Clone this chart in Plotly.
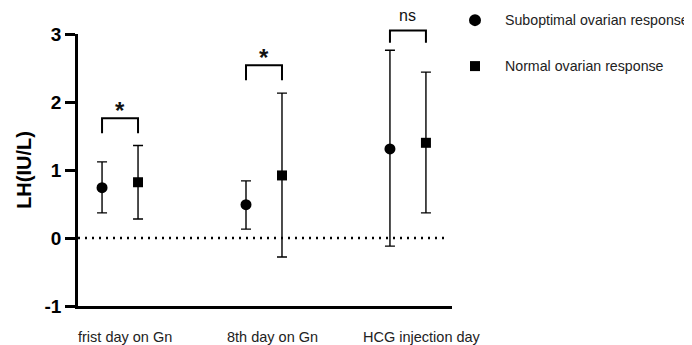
import plotly.graph_objects as go

categories = ["frist day on Gn", "8th day on Gn", "HCG injection day"]
series_names = ["Suboptimal ovarian response", "Normal ovarian response"]
sub_mean = [0.74, 0.49, 1.31]
sub_upper = [1.12, 0.84, 2.76]
sub_lower = [0.37, 0.13, -0.12]
norm_mean = [0.82, 0.92, 1.40]
norm_upper = [1.36, 2.13, 2.44]
norm_lower = [0.28, -0.28, 0.37]
sig_labels = ["*", "*", "ns"]
bracket_top = [1.76, 2.54, 3.05]
bracket_leg = [1.54, 2.32, 2.87]
label_y = [1.93, 2.71, 3.27]
y_ticks = [-1, 0, 1, 2, 3]
y_ticktext = ["-1", "0", "1", "2", "3"]
Y_RANGE = [-1, 3]

centers = [1, 2, 3]
off = 0.125
x_sub = [c - off for c in centers]
x_norm = [c + off for c in centers]


def ypaper(v):
    return (v - Y_RANGE[0]) / (Y_RANGE[1] - Y_RANGE[0])


FONT = "Liberation Sans, Arial, sans-serif"

fig = go.Figure()
fig.add_trace(go.Scatter(
    x=x_sub, y=sub_mean, mode="markers", name=series_names[0],
    marker=dict(symbol="circle", size=11, color="black"),
    error_y=dict(type="data", symmetric=False,
                 array=[u - m for u, m in zip(sub_upper, sub_mean)],
                 arrayminus=[m - l for m, l in zip(sub_mean, sub_lower)],
                 color="black", thickness=1.4, width=5),
    showlegend=False, cliponaxis=False))
fig.add_trace(go.Scatter(
    x=x_norm, y=norm_mean, mode="markers", name=series_names[1],
    marker=dict(symbol="square", size=10, color="black"),
    error_y=dict(type="data", symmetric=False,
                 array=[u - m for u, m in zip(norm_upper, norm_mean)],
                 arrayminus=[m - l for m, l in zip(norm_mean, norm_lower)],
                 color="black", thickness=1.4, width=5),
    showlegend=False, cliponaxis=False))

shapes = []
annotations = []
# dotted zero line
shapes.append(dict(type="line", xref="x", yref="y", x0=0.708, x1=3.265, y0=0, y1=0,
                   line=dict(color="black", width=2.5, dash="2px,5px"), layer="below"))
# significance brackets
for i in range(3):
    yt = ypaper(bracket_top[i])
    yl = ypaper(bracket_leg[i])
    shapes.append(dict(type="path", xref="x", yref="paper",
                       path=f"M {x_sub[i]},{yl} L {x_sub[i]},{yt} L {x_norm[i]},{yt} L {x_norm[i]},{yl}",
                       line=dict(color="black", width=2)))
    is_star = sig_labels[i] == "*"
    annotations.append(dict(x=centers[i], y=ypaper(label_y[i]), xref="x", yref="paper",
                            text="<b>*</b>" if is_star else sig_labels[i],
                            showarrow=False, yanchor="middle",
                            font=dict(family=FONT, size=24 if is_star else 16, color="#111"),
                            yshift=-4 if is_star else 0))
# category labels
label_shift = [5, 9, 14]
for i, c in enumerate(categories):
    annotations.append(dict(x=centers[i], y=0, xref="x", yref="paper", text=c, showarrow=False,
                            yanchor="top", yshift=-21, xshift=label_shift[i],
                            font=dict(family=FONT, size=14.5, color="#222")))
# legend (manual)
leg_y = [1.051, 0.882]
symbols = ["circle", "rect"]
for i, name in enumerate(series_names):
    if symbols[i] == "circle":
        shapes.append(dict(type="circle", xref="paper", yref="paper", xsizemode="pixel", ysizemode="pixel",
                           xanchor=1.0615, yanchor=leg_y[i], x0=-6, x1=6, y0=-6, y1=6,
                           fillcolor="black", line=dict(width=0)))
    else:
        shapes.append(dict(type="rect", xref="paper", yref="paper", xsizemode="pixel", ysizemode="pixel",
                           xanchor=1.0615, yanchor=leg_y[i], x0=-5, x1=5, y0=-5, y1=5,
                           fillcolor="black", line=dict(width=0)))
    annotations.append(dict(x=1.137, y=leg_y[i], xref="paper", yref="paper", text=name, showarrow=False,
                            xanchor="left", yanchor="middle",
                            font=dict(family=FONT, size=14.2, color="#222")))

# page body has an 8px default margin, so the figure is 8px smaller and offset
fig.update_layout(
    width=684, height=337,
    margin=dict(l=70, r=240, t=26, b=39),
    paper_bgcolor="white", plot_bgcolor="white",
    shapes=shapes, annotations=annotations,
    xaxis=dict(range=[0.708, 3.306], showline=True, linecolor="black", linewidth=2.5,
               showgrid=False, zeroline=False, showticklabels=False, ticks=""),
    yaxis=dict(range=Y_RANGE, tickvals=y_ticks, ticktext=y_ticktext, showline=True,
               linecolor="black", linewidth=2.5,
               showgrid=False, zeroline=False, ticks="outside", ticklen=10, tickwidth=2.5,
               tickcolor="black",
               tickfont=dict(family=FONT, size=19, color="black", weight="bold"),
               title=dict(text="<b>LH(IU/L)</b>", font=dict(family=FONT, size=20, color="black"),
                          standoff=8)),
)
fig.write_html("out.html")
